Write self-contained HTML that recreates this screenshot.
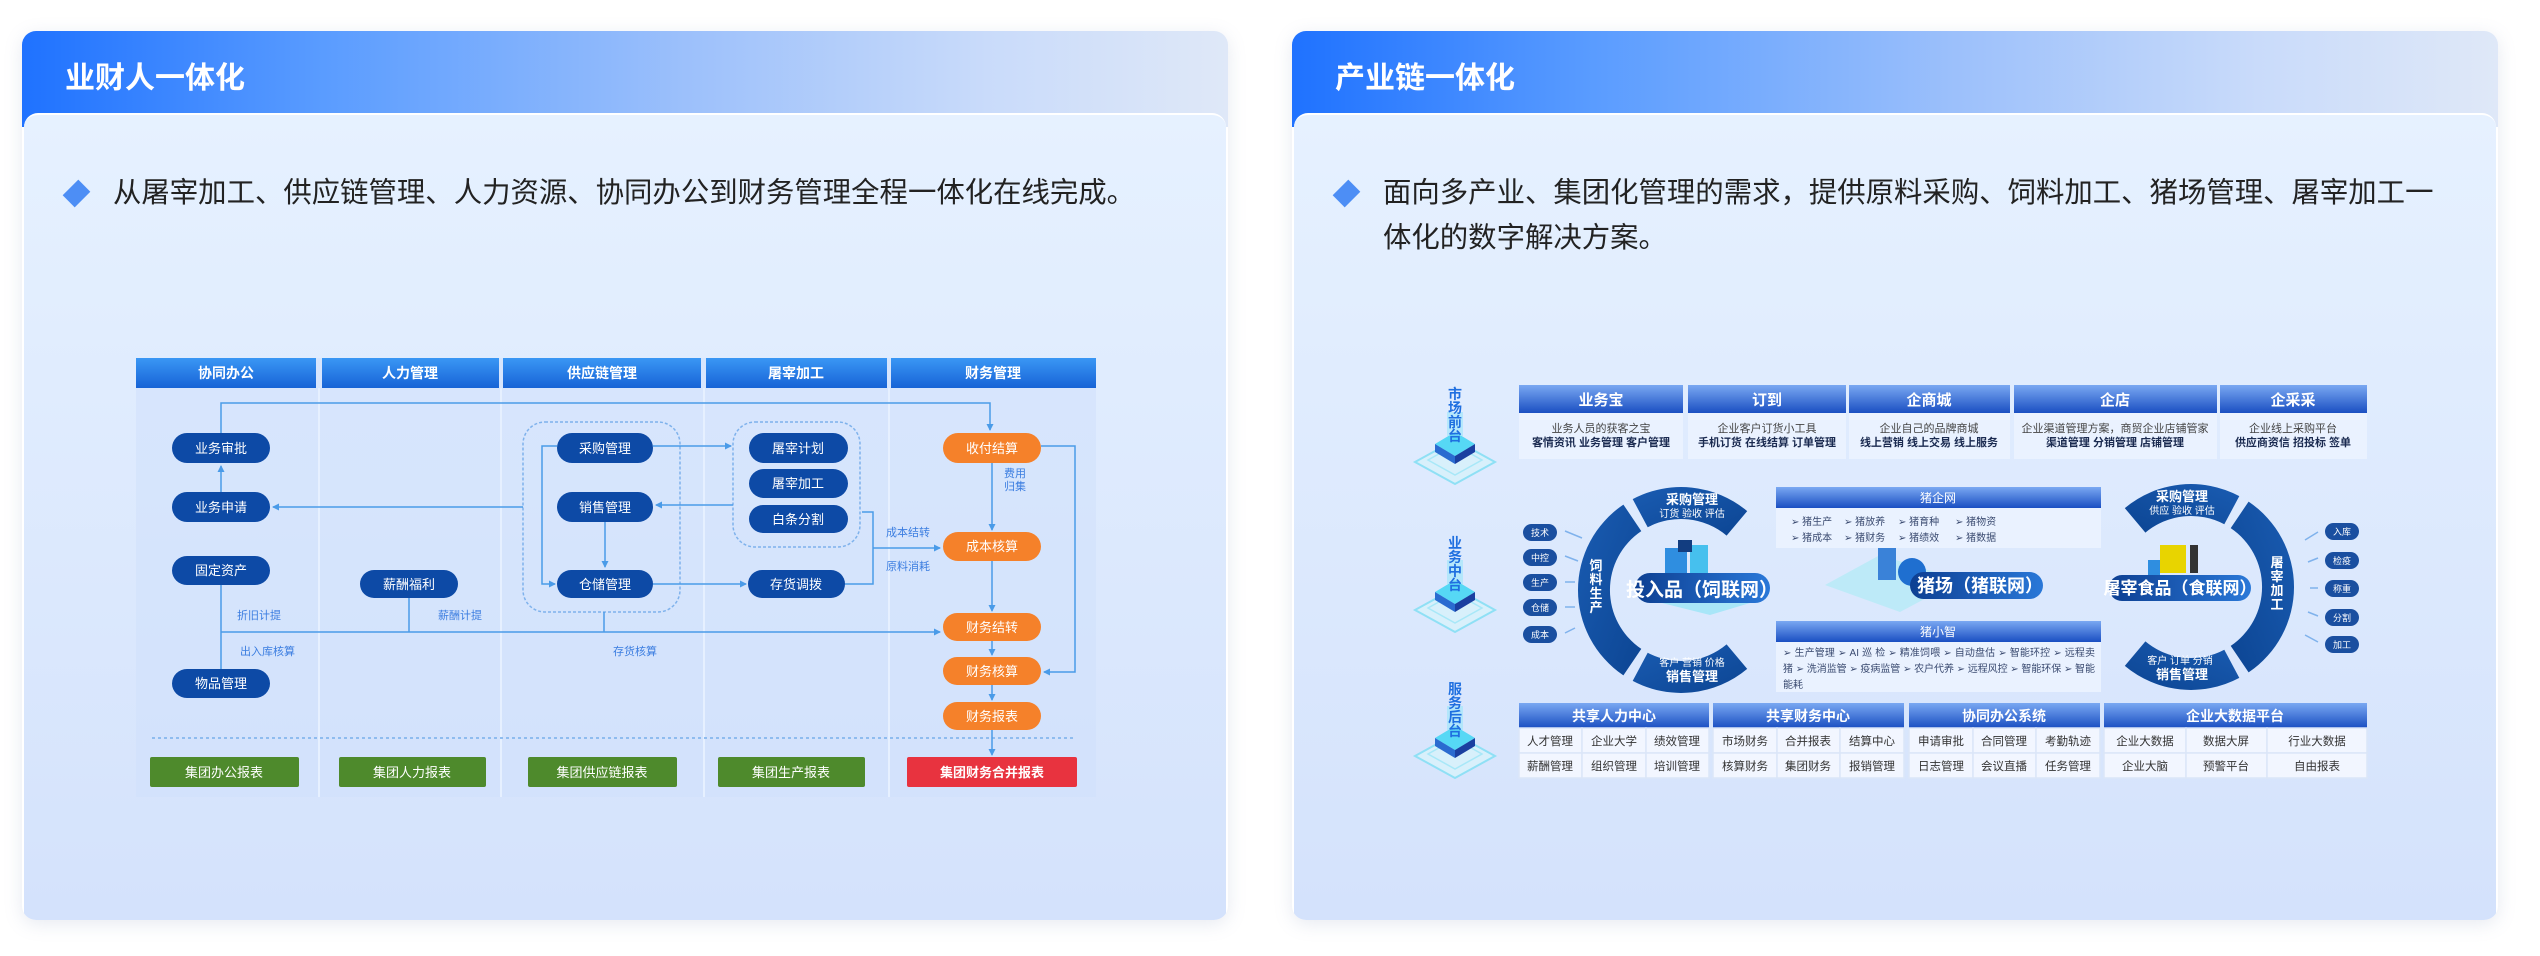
<!DOCTYPE html>
<html><head><meta charset="utf-8"><style>
*{margin:0;padding:0;box-sizing:border-box}
body{width:2540px;height:956px;background:#fff;position:relative;overflow:hidden;font-family:"Liberation Sans","Noto Sans CJK SC",sans-serif}
.card{position:absolute;top:31px;width:1206px;height:889px;border-radius:14px;box-shadow:0 4px 18px rgba(120,140,180,.18);overflow:hidden}
.hd{position:absolute;left:0;top:0;right:0;height:96px;background:linear-gradient(90deg,#1f72ff 0%,#5a9cff 25%,#9cc0fb 55%,#c9dbfa 80%,#dfe8f8 100%)}
.hd span{position:absolute;left:43px;top:22px;color:#fff;font-size:30px;font-weight:bold;font-family:"Noto Sans CJK SC",sans-serif}
.bd{position:absolute;left:2px;right:2px;top:82px;bottom:0;border-radius:14px 14px 0 0;border-top:2px solid #fff;background:linear-gradient(180deg,#e6f1ff 0%,#dbe8fd 60%,#d4e2fc 100%)}
.tx{position:absolute;font-size:28.4px;color:#222;line-height:45px;font-family:"Liberation Sans","Noto Sans CJK SC",sans-serif;white-space:nowrap}
.dm{position:absolute;width:17px;height:17px;background:#4d8ef5;transform:rotate(45deg) scaleY(1.3)}
</style></head><body>
<div class="card" style="left:22px"><div class="hd"><span>业财人一体化</span></div><div class="bd"></div></div>
<div class="card" style="left:1292px"><div class="hd"><span>产业链一体化</span></div><div class="bd"></div></div>
<div class="dm" style="left:68px;top:185px"></div>
<div class="tx" style="left:113px;top:171px">从屠宰加工、供应链管理、人力资源、协同办公到财务管理全程一体化在线完成。</div>
<div class="dm" style="left:1338px;top:185px"></div>
<div class="tx" style="left:1383px;top:171px">面向多产业、集团化管理的需求，提供原料采购、饲料加工、猪场管理、屠宰加工一<br>体化的数字解决方案。</div>

<svg width="2540" height="956" style="position:absolute;left:0;top:0" font-family="Liberation Sans, Noto Sans CJK SC, sans-serif">
<defs>
<linearGradient id="lh" x1="0" y1="0" x2="0" y2="1"><stop offset="0" stop-color="#3a97f5"/><stop offset="1" stop-color="#1763d6"/></linearGradient>
<linearGradient id="bh" x1="0" y1="0" x2="0" y2="1"><stop offset="0" stop-color="#7aa8f2"/><stop offset="1" stop-color="#1a4fc2"/></linearGradient>
<linearGradient id="rg" x1="0" y1="0" x2="1" y2="1"><stop offset="0" stop-color="#1a5cb2"/><stop offset="1" stop-color="#0c4593"/></linearGradient>
<linearGradient id="pl" x1="0" y1="0" x2="1" y2="0"><stop offset="0" stop-color="#0d3f92"/><stop offset="1" stop-color="#2a78d8"/></linearGradient>
<marker id="ar" markerWidth="8" markerHeight="8" refX="6" refY="4" orient="auto" markerUnits="userSpaceOnUse"><path d="M0,0.5 L7,4 L0,7.5 z" fill="#4a9be8"/></marker>
</defs>

<rect x="136" y="358" width="960" height="439" fill="#cfe0fb" opacity="0.55"/>
<g stroke="#e6f0ff" stroke-width="2"><line x1="319" y1="388" x2="319" y2="797"/><line x1="501" y1="388" x2="501" y2="797"/><line x1="704" y1="388" x2="704" y2="797"/><line x1="889" y1="388" x2="889" y2="797"/></g>
<g fill="url(#lh)"><rect x="136" y="358" width="180" height="30"/><rect x="322" y="358" width="177" height="30"/><rect x="503" y="358" width="198" height="30"/><rect x="706" y="358" width="181" height="30"/><rect x="891" y="358" width="205" height="30"/></g>
<g fill="#fff" font-size="14" font-weight="bold" text-anchor="middle"><text x="226" y="378">协同办公</text><text x="410" y="378">人力管理</text><text x="602" y="378">供应链管理</text><text x="796" y="378">屠宰加工</text><text x="993" y="378">财务管理</text></g>

<g fill="none" stroke="#7fb2ec" stroke-width="1.5" stroke-dasharray="3,2"><rect x="523" y="422" width="157" height="190" rx="22"/><rect x="733" y="422" width="127" height="125" rx="22"/></g>
<line x1="152" y1="738" x2="1073" y2="738" stroke="#8fbcef" stroke-width="2" stroke-dasharray="3,3"/>

<g fill="none" stroke="#4a9be8" stroke-width="1.5">
<path d="M221 433 V403 H990 V430" marker-end="url(#ar)"/>
<path d="M221 492 V466" marker-end="url(#ar)"/>
<path d="M523 507 H273" marker-end="url(#ar)"/>
<path d="M653 446 H731" marker-end="url(#ar)"/>
<path d="M733 505 H656" marker-end="url(#ar)"/>
<path d="M605 522 V567" marker-end="url(#ar)"/>
<path d="M557 446 H542 V584 H555" marker-end="url(#ar)"/>
<path d="M653 584 H746" marker-end="url(#ar)"/>
<path d="M845 584 H873 V512 H862"/>
<path d="M873 548 H940" marker-end="url(#ar)"/>
<path d="M992 463 V530" marker-end="url(#ar)"/>
<path d="M1041 446 H1075 V672 H1044" marker-end="url(#ar)"/>
<path d="M992 561 V611" marker-end="url(#ar)"/>
<path d="M992 641 V655" marker-end="url(#ar)"/>
<path d="M992 685 V700" marker-end="url(#ar)"/>
<path d="M992 730 V755" marker-end="url(#ar)"/>
<path d="M221 585 V669"/>
<path d="M221 632 H940" marker-end="url(#ar)"/>
<path d="M409 598 V632"/><path d="M604 612 V632"/>
</g>

<g fill="#0d4aa6">
<rect x="172" y="433" width="98" height="30" rx="15"/><rect x="172" y="492" width="98" height="30" rx="15"/><rect x="172" y="556" width="98" height="29" rx="15"/><rect x="172" y="669" width="98" height="29" rx="15"/>
<rect x="360" y="570" width="98" height="28" rx="14"/>
<rect x="557" y="433" width="96" height="30" rx="15"/><rect x="557" y="492" width="96" height="30" rx="15"/><rect x="557" y="570" width="96" height="28" rx="14"/>
<rect x="749" y="433" width="99" height="30" rx="15"/><rect x="749" y="469" width="99" height="29" rx="15"/><rect x="749" y="505" width="99" height="28" rx="14"/><rect x="748" y="570" width="97" height="28" rx="14"/>
</g>
<g fill="#f5812a"><rect x="943" y="433" width="98" height="30" rx="15"/><rect x="943" y="532" width="98" height="29" rx="15"/><rect x="943" y="613" width="98" height="28" rx="14"/><rect x="943" y="657" width="98" height="28" rx="14"/><rect x="943" y="702" width="98" height="28" rx="14"/></g>
<g fill="#4e8a2c"><rect x="150" y="757" width="149" height="30" rx="2"/><rect x="339" y="757" width="147" height="30" rx="2"/><rect x="528" y="757" width="149" height="30" rx="2"/><rect x="718" y="757" width="147" height="30" rx="2"/></g>
<rect x="907" y="757" width="170" height="30" rx="2" fill="#e8333f"/>
<g fill="#fff" font-size="13" text-anchor="middle">
<text x="221" y="453">业务审批</text><text x="221" y="512">业务申请</text><text x="221" y="575">固定资产</text><text x="221" y="688">物品管理</text><text x="409" y="589">薪酬福利</text>
<text x="605" y="453">采购管理</text><text x="605" y="512">销售管理</text><text x="605" y="589">仓储管理</text>
<text x="798" y="453">屠宰计划</text><text x="798" y="488">屠宰加工</text><text x="798" y="524">白条分割</text><text x="796" y="589">存货调拨</text>
<text x="992" y="453">收付结算</text><text x="992" y="551">成本核算</text><text x="992" y="632">财务结转</text><text x="992" y="676">财务核算</text><text x="992" y="721">财务报表</text>
<text x="224" y="777">集团办公报表</text><text x="412" y="777">集团人力报表</text><text x="602" y="777">集团供应链报表</text><text x="791" y="777">集团生产报表</text><text x="992" y="777" font-weight="bold">集团财务合并报表</text>
</g>
<g fill="#3b7de0" font-size="11"><text x="237" y="619">折旧计提</text><text x="240" y="655">出入库核算</text><text x="438" y="619">薪酬计提</text><text x="613" y="655">存货核算</text><text x="886" y="536">成本结转</text><text x="886" y="570">原料消耗</text><text x="1004" y="477">费用</text><text x="1004" y="490">归集</text></g>

<g id="iso">
<path d="M1455 440 L1495 462 L1455 484 L1415 462 Z" fill="#d8f0fb" stroke="#8fe0f5" stroke-width="2"/>
<path d="M1455 445 L1482 460 L1455 475 L1428 460 Z" fill="none" stroke="#a8e8f8" stroke-width="1.5"/>
<path d="M1455 432 L1475 444 L1455 456 L1435 444 Z" fill="#56d8f5"/>
<path d="M1435 444 L1455 456 V464 L1435 452 Z" fill="#2a6bd0"/><path d="M1475 444 L1455 456 V464 L1475 452 Z" fill="#1a3fa0"/>
<rect x="1447" y="412" width="16" height="24" fill="#8ee6fa" opacity="0.5"/>
</g>
<use href="#iso" transform="translate(0,148)"/>
<use href="#iso" transform="translate(0,294)"/>
<g fill="#1f6fe0" font-size="14" font-weight="bold" text-anchor="middle">
<text x="1455" y="399">市</text><text x="1455" y="413">场</text><text x="1455" y="427">前</text><text x="1455" y="441">台</text>
<text x="1455" y="548">业</text><text x="1455" y="562">务</text><text x="1455" y="576">中</text><text x="1455" y="590">台</text>
<text x="1455" y="694">服</text><text x="1455" y="708">务</text><text x="1455" y="722">后</text><text x="1455" y="736">台</text>
</g>

<g fill="url(#bh)"><rect x="1519" y="385" width="164" height="28"/><rect x="1688" y="385" width="158" height="28"/><rect x="1849" y="385" width="161" height="28"/><rect x="2014" y="385" width="203" height="28"/><rect x="2220" y="385" width="147" height="28"/></g>
<g fill="#eaf2ff"><rect x="1519" y="413" width="164" height="46"/><rect x="1688" y="413" width="158" height="46"/><rect x="1849" y="413" width="161" height="46"/><rect x="2014" y="413" width="203" height="46"/><rect x="2220" y="413" width="147" height="46"/></g>
<g fill="#fff" font-size="15" font-weight="bold" text-anchor="middle"><text x="1601" y="405">业务宝</text><text x="1767" y="405">订到</text><text x="1929" y="405">企商城</text><text x="2115" y="405">企店</text><text x="2293" y="405">企采采</text></g>
<g fill="#444" font-size="11" text-anchor="middle"><text x="1601" y="432">业务人员的获客之宝</text><text x="1767" y="432">企业客户订货小工具</text><text x="1929" y="432">企业自己的品牌商城</text><text x="2115" y="432">企业渠道管理方案，商贸企业店铺管家</text><text x="2293" y="432">企业线上采购平台</text></g>
<g fill="#1a2a50" font-size="11" font-weight="bold" text-anchor="middle"><text x="1601" y="446">客情资讯 业务管理 客户管理</text><text x="1767" y="446">手机订货 在线结算 订单管理</text><text x="1929" y="446">线上营销 线上交易 线上服务</text><text x="2115" y="446">渠道管理 分销管理 店铺管理</text><text x="2293" y="446">供应商资信 招投标 签单</text></g>

<g id="ring" fill="url(#rg)">
<path d="M1632.7 499.1 A103 103 0 0 1 1747.2 511.1 L1726.6 535.6 A71 71 0 0 0 1647.7 527.3 Z"/>
<path d="M1623.4 675.4 A103 103 0 0 1 1623.4 504.6 L1641.3 531.1 A71 71 0 0 0 1641.3 648.9 Z"/>
<path d="M1747.2 668.9 A103 103 0 0 1 1632.7 680.9 L1647.7 652.7 A71 71 0 0 0 1726.6 644.4 Z"/>
</g>
<use href="#ring" transform="translate(3872,-3) scale(-1,1)"/>
<g fill="#fff" text-anchor="middle">
<text x="1692" y="504" font-size="13" font-weight="bold">采购管理</text><text x="1692" y="517" font-size="10">订货 验收 评估</text>
<text x="1692" y="666" font-size="10">客户 营销 价格</text><text x="1692" y="681" font-size="13" font-weight="bold">销售管理</text>
<text x="2182" y="501" font-size="13" font-weight="bold">采购管理</text><text x="2182" y="514" font-size="10">供应 验收 评估</text>
<text x="2180" y="664" font-size="10">客户 订单 分销</text><text x="2182" y="679" font-size="13" font-weight="bold">销售管理</text>
</g>
<g fill="#fff" font-size="13" font-weight="bold" text-anchor="middle">
<text x="1596" y="570">饲</text><text x="1596" y="584">料</text><text x="1596" y="598">生</text><text x="1596" y="612">产</text>
<text x="2277" y="567">屠</text><text x="2277" y="581">宰</text><text x="2277" y="595">加</text><text x="2277" y="609">工</text>
</g>
<g fill="#1a4fa0"><rect x="1523" y="524" width="34" height="17" rx="8.5"/><rect x="1523" y="549" width="34" height="17" rx="8.5"/><rect x="1523" y="574" width="34" height="17" rx="8.5"/><rect x="1523" y="599" width="34" height="17" rx="8.5"/><rect x="1523" y="626" width="34" height="17" rx="8.5"/>
<rect x="2325" y="523" width="34" height="17" rx="8.5"/><rect x="2325" y="552" width="34" height="17" rx="8.5"/><rect x="2325" y="580" width="34" height="17" rx="8.5"/><rect x="2325" y="609" width="34" height="17" rx="8.5"/><rect x="2325" y="636" width="34" height="17" rx="8.5"/></g>
<g fill="#fff" font-size="9" text-anchor="middle"><text x="1540" y="536">技术</text><text x="1540" y="561">中控</text><text x="1540" y="586">生产</text><text x="1540" y="611">仓储</text><text x="1540" y="638">成本</text>
<text x="2342" y="535">入库</text><text x="2342" y="564">检疫</text><text x="2342" y="592">称重</text><text x="2342" y="621">分割</text><text x="2342" y="648">加工</text></g>
<g stroke="#7fb2ec" stroke-width="1.5"><line x1="1565" y1="531" x2="1582" y2="538"/><line x1="1565" y1="556" x2="1578" y2="561"/><line x1="1565" y1="582" x2="1575" y2="582"/><line x1="1565" y1="607" x2="1575" y2="607"/><line x1="1565" y1="633" x2="1575" y2="628"/>
<line x1="2305" y1="540" x2="2318" y2="532"/><line x1="2308" y1="562" x2="2318" y2="558"/><line x1="2310" y1="588" x2="2318" y2="588"/><line x1="2308" y1="612" x2="2318" y2="616"/><line x1="2305" y1="635" x2="2318" y2="642"/></g>

<path d="M1650 600 L1700 585 L1760 600 L1710 615 Z" fill="#a8e6f8"/>
<rect x="1665" y="548" width="22" height="26" fill="#2f8ee0"/><rect x="1690" y="545" width="18" height="30" fill="#46c0ee"/><rect x="1678" y="540" width="14" height="12" fill="#123d80"/>
<rect x="1635" y="573" width="135" height="30" rx="15" fill="url(#pl)"/>
<text x="1702" y="596" fill="#fff" font-size="19" font-weight="bold" text-anchor="middle">投入品（饲联网）</text>
<path d="M1825 585 L1880 555 L1960 580 L1900 612 Z" fill="#bdeaf8"/>
<rect x="1878" y="540" width="18" height="40" fill="#3a82d8"/><circle cx="1912" cy="572" r="14" fill="#1f6fd0"/>
<rect x="1910" y="572" width="133" height="27" rx="13.5" fill="url(#pl)"/>
<text x="1980" y="592" fill="#fff" font-size="18" font-weight="bold" text-anchor="middle">猪场（猪联网）</text>
<rect x="2160" y="545" width="26" height="28" fill="#e8d400"/><rect x="2148" y="560" width="12" height="16" fill="#2f8ee0"/><rect x="2190" y="545" width="8" height="28" fill="#333"/>
<rect x="2109" y="575" width="142" height="26" rx="13" fill="url(#pl)"/>
<text x="2180" y="594" fill="#fff" font-size="17" font-weight="bold" text-anchor="middle">屠宰食品（食联网）</text>

<rect x="1776" y="487" width="325" height="21" fill="url(#bh)"/><rect x="1776" y="508" width="325" height="40" fill="#eaf2ff"/>
<text x="1938" y="502" fill="#fff" font-size="12" text-anchor="middle">猪企网</text>
<g fill="#3a4a70" font-size="10"><text x="1791" y="525">➢ 猪生产</text><text x="1844" y="525">➢ 猪放养</text><text x="1898" y="525">➢ 猪育种</text><text x="1955" y="525">➢ 猪物资</text>
<text x="1791" y="541">➢ 猪成本</text><text x="1844" y="541">➢ 猪财务</text><text x="1898" y="541">➢ 猪绩效</text><text x="1955" y="541">➢ 猪数据</text></g>
<rect x="1776" y="621" width="325" height="21" fill="url(#bh)"/><rect x="1776" y="642" width="325" height="50" fill="#eaf2ff"/>
<text x="1938" y="636" fill="#fff" font-size="12" text-anchor="middle">猪小智</text>
<g fill="#3a4a70" font-size="10"><text x="1783" y="656" textLength="312">➢ 生产管理 ➢ AI 巡 检 ➢ 精准饲喂 ➢ 自动盘估 ➢ 智能环控 ➢ 远程卖</text>
<text x="1783" y="672" textLength="312">猪 ➢ 洗消监管 ➢ 疫病监管 ➢ 农户代养 ➢ 远程风控 ➢ 智能环保 ➢ 智能</text>
<text x="1783" y="688">能耗</text></g>

<g fill="url(#bh)"><rect x="1519" y="703" width="190" height="25"/><rect x="1713" y="703" width="191" height="25"/><rect x="1909" y="703" width="191" height="25"/><rect x="2104" y="703" width="263" height="25"/></g>
<g fill="#f2f6ff" stroke="#dbe6f8" stroke-width="1.5">
<rect x="1519" y="728" width="63" height="25"/><rect x="1582" y="728" width="64" height="25"/><rect x="1646" y="728" width="63" height="25"/>
<rect x="1519" y="753" width="63" height="25"/><rect x="1582" y="753" width="64" height="25"/><rect x="1646" y="753" width="63" height="25"/>
<rect x="1713" y="728" width="64" height="25"/><rect x="1777" y="728" width="63" height="25"/><rect x="1840" y="728" width="64" height="25"/>
<rect x="1713" y="753" width="64" height="25"/><rect x="1777" y="753" width="63" height="25"/><rect x="1840" y="753" width="64" height="25"/>
<rect x="1909" y="728" width="64" height="25"/><rect x="1973" y="728" width="63" height="25"/><rect x="2036" y="728" width="64" height="25"/>
<rect x="1909" y="753" width="64" height="25"/><rect x="1973" y="753" width="63" height="25"/><rect x="2036" y="753" width="64" height="25"/>
<rect x="2104" y="728" width="82" height="25"/><rect x="2186" y="728" width="81" height="25"/><rect x="2267" y="728" width="100" height="25"/>
<rect x="2104" y="753" width="82" height="25"/><rect x="2186" y="753" width="81" height="25"/><rect x="2267" y="753" width="100" height="25"/>
</g>
<g fill="#fff" font-size="14" font-weight="bold" text-anchor="middle"><text x="1614" y="721">共享人力中心</text><text x="1808" y="721">共享财务中心</text><text x="2004" y="721">协同办公系统</text><text x="2235" y="721">企业大数据平台</text></g>
<g fill="#333" font-size="11.5" text-anchor="middle">
<text x="1550" y="745">人才管理</text><text x="1614" y="745">企业大学</text><text x="1677" y="745">绩效管理</text>
<text x="1550" y="770">薪酬管理</text><text x="1614" y="770">组织管理</text><text x="1677" y="770">培训管理</text>
<text x="1745" y="745">市场财务</text><text x="1808" y="745">合并报表</text><text x="1872" y="745">结算中心</text>
<text x="1745" y="770">核算财务</text><text x="1808" y="770">集团财务</text><text x="1872" y="770">报销管理</text>
<text x="1941" y="745">申请审批</text><text x="2004" y="745">合同管理</text><text x="2068" y="745">考勤轨迹</text>
<text x="1941" y="770">日志管理</text><text x="2004" y="770">会议直播</text><text x="2068" y="770">任务管理</text>
<text x="2145" y="745">企业大数据</text><text x="2226" y="745">数据大屏</text><text x="2317" y="745">行业大数据</text>
<text x="2145" y="770">企业大脑</text><text x="2226" y="770">预警平台</text><text x="2317" y="770">自由报表</text>
</g>
</svg>
</body></html>
